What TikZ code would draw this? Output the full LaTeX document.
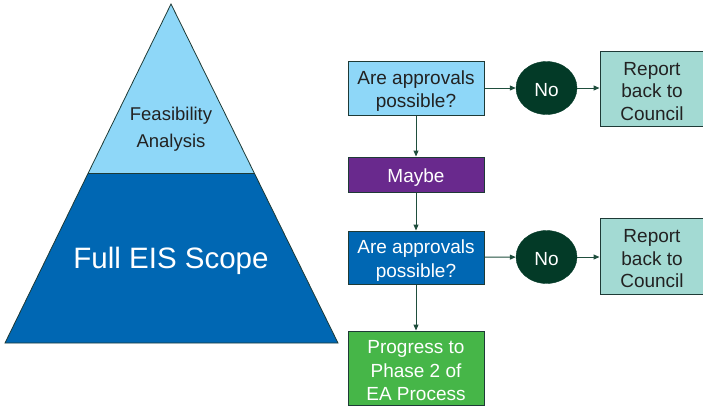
\documentclass[tikz,border=0pt]{standalone}
\usepackage{fontspec}
\setmainfont{Liberation Sans}
\usetikzlibrary{arrows.meta,shapes.geometric}
\definecolor{lightblue}{HTML}{8ED7F8}
\definecolor{midblue}{HTML}{0067B3}
\definecolor{darkgreen}{HTML}{033A27}
\definecolor{teal}{HTML}{A3DAD3}
\definecolor{purp}{HTML}{69298D}
\definecolor{grn}{HTML}{46B648}
\definecolor{edge}{HTML}{1E3A36}
\definecolor{arrowc}{HTML}{1F4E3D}
\definecolor{txt}{HTML}{222222}
\tikzset{
  boxstyle/.style={draw=edge, line width=1pt, rectangle, inner sep=0pt, minimum width=136pt},
  lbl/.style={align=center, inner sep=0pt, yshift=-3pt, font=\fontsize{19}{23.5}\selectfont},
  nostyle/.style={ellipse, fill=darkgreen, draw=darkgreen, minimum width=61pt, minimum height=53pt,
    inner sep=0pt},
  repstyle/.style={draw=edge, line width=1pt, fill=teal, rectangle, inner sep=0pt,
    minimum width=106pt, minimum height=75pt},
  arr/.style={draw=arrowc, line width=1pt, -{Triangle[length=6pt,width=5pt]}}
}
\begin{document}
\begin{tikzpicture}[x=1pt,y=-1pt]
\useasboundingbox (0,0) rectangle (703,408);
% pyramid
\fill[lightblue] (171,4) -- (254.3,173) -- (88.2,173) -- cycle;
\fill[midblue] (88.2,173) -- (254.3,173) -- (338,343) -- (5,343) -- cycle;
\draw[edge, line width=0.8pt] (171,4) -- (338,343) -- (5,343) -- cycle;
\draw[edge, line width=0.8pt] (88.2,173) -- (254.3,173);
\node[align=center, text=txt, font=\fontsize{18.5}{27}\selectfont] (feas) at (171,129) {Feasibility\\Analysis};
\node[text=white, font=\fontsize{29.5}{32}\selectfont] (full) at (171,261) {Full EIS Scope};
% flow
\node[boxstyle, fill=lightblue, minimum height=54pt,
  label={[lbl, text=txt]center:{Are approvals\\possible?}}] (q1) at (416,88) {};
\node[nostyle, label={[lbl, text=white, yshift=1pt]center:No}] (no1) at (546.5,88) {};
\node[repstyle, label={[lbl, text=txt, xshift=-1pt, font=\fontsize{19}{22.5}\selectfont]center:{Report\\back to\\Council}}] (r1) at (653,88.5) {};
\node[boxstyle, fill=purp, minimum height=35pt,
  label={[lbl, text=white]center:Maybe}] (maybe) at (416,174.5) {};
\node[boxstyle, fill=midblue, minimum height=53pt,
  label={[lbl, text=white]center:{Are approvals\\possible?}}] (q2) at (416,257.5) {};
\node[nostyle, label={[lbl, text=white, yshift=1pt]center:No}] (no2) at (546.5,257) {};
\node[repstyle, minimum height=76pt, label={[lbl, text=txt, xshift=-1pt, font=\fontsize{19}{22.5}\selectfont]center:{Report\\back to\\Council}}] (r2) at (653,256) {};
\node[boxstyle, fill=grn, minimum height=74pt,
  label={[lbl, text=white]center:{Progress to\\Phase 2 of\\EA Process}}] (prog) at (416,368) {};
\draw[arr] (q1) -- (no1);
\draw[arr] (no1) -- (r1.west |- no1);
\draw[arr] (q1) -- (maybe);
\draw[arr] (maybe) -- (q2);
\draw[arr] (q2) -- (no2);
\draw[arr] (no2) -- (r2.west |- no2);
\draw[arr] (q2) -- (prog);
\end{tikzpicture}
\end{document}
